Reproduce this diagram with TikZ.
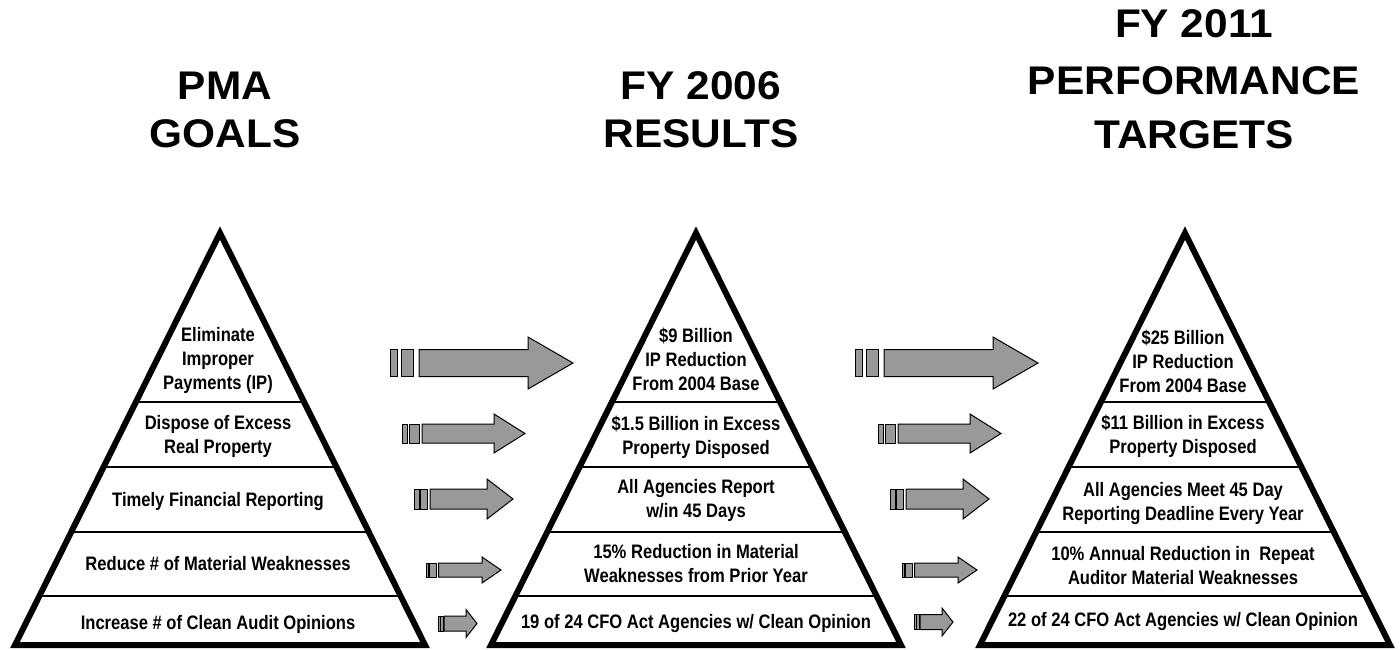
\documentclass[tikz,border=0pt]{standalone}
\usepackage{fontspec}
\setmainfont{Liberation Sans}
\usepackage{graphicx}
\definecolor{arrowgray}{RGB}{153,153,153}
\newcommand{\bodytext}[1]{\scalebox{0.85}[1]{\begin{tabular}{@{}c@{}}#1\end{tabular}}}
\newcommand{\titletext}[1]{\scalebox{1.06}[1]{#1}}
\tikzset{
  pyredge/.style={line width=6pt, line join=miter, draw=black},
  divider/.style={line width=2pt, draw=black},
  band/.style={font=\fontsize{19.5}{24}\selectfont\bfseries, inner sep=0pt},
  ttl/.style={font=\fontsize{40}{48}\selectfont\bfseries, anchor=base, inner sep=0pt},
  arrowbody/.style={fill=arrowgray, draw=black, line width=1pt, line join=miter},
}
\begin{document}
\begin{tikzpicture}[x=1pt,y=-1pt]
\useasboundingbox (0,0) rectangle (1400,649);
\fill[white] (0,0) rectangle (1400,649);
% pyramids
\foreach \cx/\nm in {220/A, 696/B, 1185/C}{
  \coordinate (\nm top) at (\cx,233);
  \coordinate (\nm bl) at (\cx-205,645);
  \coordinate (\nm br) at (\cx+205,645);
  \begin{scope}
    \clip (\nm top) -- (\nm bl) -- (\nm br) -- cycle;
    \foreach \yy in {402,467,532,596} \draw[divider] (\cx-220,\yy) -- (\cx+220,\yy);
  \end{scope}
  \draw[pyredge] (\nm top) -- (\nm bl) -- (\nm br) -- cycle;
}
% striped block arrows
\foreach \dx/\sa/\sb/\sc/\sd/\se/\yc/\sh/\hh/\xh/\xt in {
  0/390/397/401/413/419/363/13.5/26/528/573,
  0/402/407/409/419/422/433.5/9.5/19.5/494/525,
  0/414/419/420.5/427/430/499/10/20/487/513,
  0/426/428.7/429.5/436.5/438.5/570/7/13/482/501,
  0/438/440/440.7/443/444/623.5/7.5/14/466/477,
  465/390/397/401/413/419/363/13.5/26/528/573,
  476/402/407/409/419/422/433.5/9.5/19.5/494/525,
  476/414/419/420.5/427/430/499/10/20/487/513,
  476/426/428.7/429.5/436.5/438.5/570/7/13/482/501,
  476/438/440/440.7/443/444/622/7.5/14/466/477}{
  \begin{scope}[xshift=\dx]
    \draw[arrowbody] (\sa,\yc-\sh) rectangle (\sb,\yc+\sh);
    \draw[arrowbody] (\sc,\yc-\sh) rectangle (\sd,\yc+\sh);
    \draw[arrowbody] (\se,\yc-\sh) -- (\xh,\yc-\sh) -- (\xh,\yc-\hh) -- (\xt,\yc)
      -- (\xh,\yc+\hh) -- (\xh,\yc+\sh) -- (\se,\yc+\sh) -- cycle;
  \end{scope}
}
% titles
\node[ttl] (h1a) at (225,99) {\titletext{PMA}};
\node[ttl] (h1b) at (225,147) {\titletext{GOALS}};
\node[ttl] (h2a) at (701,99) {\titletext{FY 2006}};
\node[ttl] (h2b) at (701,147) {\titletext{RESULTS}};
\node[ttl] (h3a) at (1194,37) {\titletext{FY 2011}};
\node[ttl] (h3b) at (1194,94) {\titletext{PERFORMANCE}};
\node[ttl] (h3c) at (1194,148) {\titletext{TARGETS}};
% PMA goals
\node[band] (g1) at (218,361) {\bodytext{Eliminate\\Improper\\Payments (IP)}};
\node[band] (g2) at (218,436.5) {\bodytext{Dispose of Excess\\Real Property}};
\node[band] (g3) at (218,502) {\bodytext{Timely Financial Reporting}};
\node[band] (g4) at (218,566) {\bodytext{Reduce \# of Material Weaknesses}};
\node[band] (g5) at (218,625) {\bodytext{Increase \# of Clean Audit Opinions}};
% FY 2006 results
\node[band] (r1) at (696,361.5) {\bodytext{\$9 Billion\\IP Reduction\\From 2004 Base}};
\node[band] (r2) at (696,437.5) {\bodytext{\$1.5 Billion in Excess\\Property Disposed}};
\node[band] (r3) at (696,501) {\bodytext{All Agencies Report\\w/in 45 Days}};
\node[band] (r4) at (696,566) {\bodytext{15\% Reduction in Material\\Weaknesses from Prior Year}};
\node[band] (r5) at (696,624) {\bodytext{19 of 24 CFO Act Agencies w/ Clean Opinion}};
% FY 2011 targets
\node[band] (p1) at (1183,364) {\bodytext{\$25 Billion\\IP Reduction\\From 2004 Base}};
\node[band] (p2) at (1183,437) {\bodytext{\$11 Billion in Excess\\Property Disposed}};
\node[band] (p3) at (1183,504) {\bodytext{All Agencies Meet 45 Day\\Reporting Deadline Every Year}};
\node[band] (p4) at (1183,567.5) {\bodytext{10\% Annual Reduction in\ \ Repeat\\Auditor Material Weaknesses}};
\node[band] (p5) at (1183,622) {\bodytext{22 of 24 CFO Act Agencies w/ Clean Opinion}};
\end{tikzpicture}
\end{document}
